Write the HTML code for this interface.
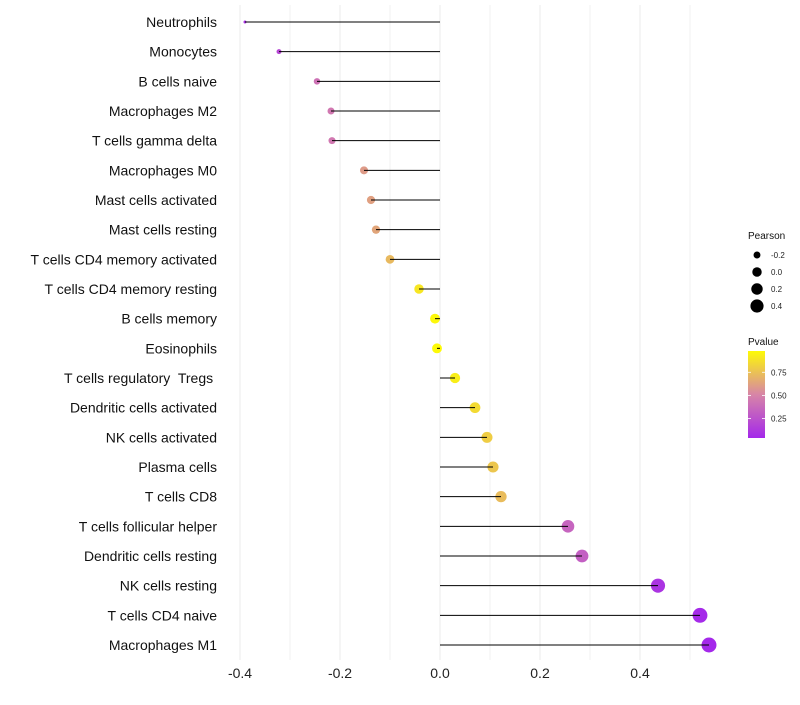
<!DOCTYPE html>
<html><head><meta charset="utf-8"><style>
body{margin:0;background:#fff;font-family:"Liberation Sans",sans-serif;}
</style></head><body>
<svg id="chart" width="800" height="700" xmlns="http://www.w3.org/2000/svg"></svg>
<script>
const cells=["Neutrophils","Monocytes","B cells naive","Macrophages M2","T cells gamma delta","Macrophages M0","Mast cells activated","Mast cells resting","T cells CD4 memory activated","T cells CD4 memory resting","B cells memory","Eosinophils","T cells regulatory  Tregs ","Dendritic cells activated","NK cells activated","Plasma cells","T cells CD8","T cells follicular helper","Dendritic cells resting","NK cells resting","T cells CD4 naive","Macrophages M1"];
const pearson=[-0.39,-0.322,-0.246,-0.218,-0.216,-0.152,-0.138,-0.128,-0.1,-0.042,-0.01,-0.006,0.03,0.07,0.094,0.106,0.122,0.256,0.284,0.436,0.52,0.538];
const pvalue=[0.08,0.2,0.42,0.45,0.45,0.6,0.62,0.64,0.72,0.9,0.97,0.98,0.93,0.85,0.8,0.77,0.73,0.35,0.32,0.1,0.05,0.04];
const xTicks=[-0.4,-0.2,0.0,0.2,0.4];
const xMinor=[-0.3,-0.1,0.1,0.3,0.5];
const sizeTicks=[-0.2,0.0,0.2,0.4];
const colorTicks=[0.25,0.50,0.75];

const NS="http://www.w3.org/2000/svg";
const svg=document.getElementById('chart');
function mk(t,a,p){const e=document.createElementNS(NS,t);for(const k in a)e.setAttribute(k,a[k]);(p||svg).appendChild(e);return e;}
const xs=v=>440+v*500;
const ys=i=>22+i*(623/21);
const rs=v=>Math.sqrt(Math.max(1,2.25+(v+0.39)/0.93*53.75));
function lerp(a,b,t){return a+(b-a)*t;}
function col(p){const s=[[0,[160,32,240]],[0.5,[214,130,170]],[1,[255,255,0]]];
 let a=s[0],b=s[1];if(p>0.5){a=s[1];b=s[2];}
 const t=Math.max(0,Math.min(1,(p-a[0])/(b[0]-a[0])));
 return `rgb(${Math.round(lerp(a[1][0],b[1][0],t))},${Math.round(lerp(a[1][1],b[1][1],t))},${Math.round(lerp(a[1][2],b[1][2],t))})`;}

xMinor.forEach(v=>{const l=mk('line',{x1:xs(v),x2:xs(v),y1:5,y2:660,stroke:'#f2f2f2','stroke-width':1});

});
xTicks.forEach(v=>{const l=mk('line',{x1:xs(v),x2:xs(v),y1:5,y2:660,stroke:'#ebebeb','stroke-width':1});


const t=mk('text',{x:xs(v),y:678,'text-anchor':'middle','font-size':14,fill:'#222'});t.textContent=v.toFixed(1);

});

cells.forEach((c,i)=>{const y=ys(i);
 const t=mk('text',{x:217,y:y+5,'text-anchor':'end','font-size':14,fill:'#111',style:'white-space:pre'});t.textContent=c;
 
 
 const d=mk('circle',{cx:xs(pearson[i]),cy:y,r:rs(pearson[i]),fill:col(pvalue[i])});
 
 
 const l=mk('line',{x1:xs(0),x2:xs(pearson[i]),y1:y,y2:y,stroke:'#000','stroke-width':1});
 
 
});

// legend
const g=mk('g',{});


let t=mk('text',{x:748,y:239,'font-size':10,fill:'#111'},g);t.textContent='Pearson';
sizeTicks.forEach((v,i)=>{const y=255+i*17;
 const c=mk('circle',{cx:757,cy:y,r:rs(v)*0.95,fill:'#000'},g);
 
 
 const tt=mk('text',{x:771,y:y+3,'font-size':8,fill:'#222'},g);tt.textContent=v.toFixed(1);
 
 });
t=mk('text',{x:748,y:345,'font-size':10,fill:'#111'},g);t.textContent='Pvalue';
const defs=mk('defs',{});
const lg=mk('linearGradient',{id:'pg',x1:0,y1:1,x2:0,y2:0},defs);
[[0,0.04],[0.5,0.51],[1,0.98]].forEach(([o,p])=>mk('stop',{offset:o,'stop-color':col(p)},lg));
const bar=mk('rect',{x:748,y:351,width:17,height:87,fill:'url(#pg)'},g);


const cy=p=>438-(p-0.04)/0.94*87;
colorTicks.forEach(p=>{const y=cy(p);
 mk('line',{x1:748,x2:751,y1:y,y2:y,stroke:'#fff','stroke-width':0.8},g);
 mk('line',{x1:762,x2:765,y1:y,y2:y,stroke:'#fff','stroke-width':0.8},g);
 const tt=mk('text',{x:771,y:y+3,'font-size':8,fill:'#222'},g);tt.textContent=p.toFixed(2);
 
 });
</script>
</body></html>
